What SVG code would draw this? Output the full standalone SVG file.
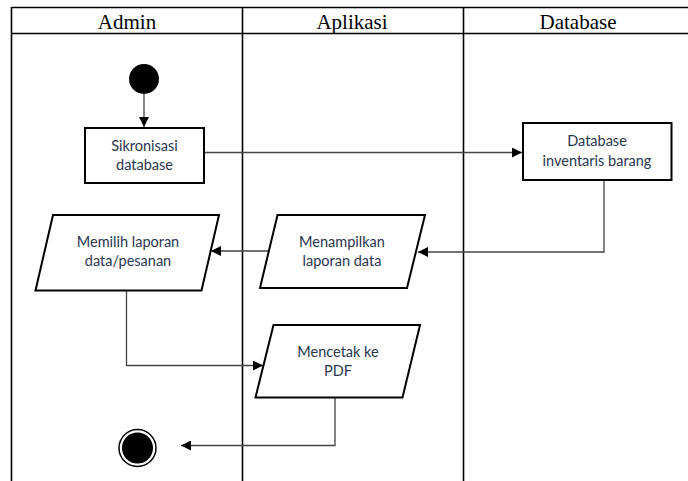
<svg xmlns="http://www.w3.org/2000/svg" width="688" height="481" viewBox="0 0 688 481">
<style>
.lane{stroke:#000;stroke-width:1.6;fill:none}
.hdr{font-family:"Liberation Serif","Times New Roman",serif;font-size:21px;fill:#000;text-anchor:middle}
.node{fill:#fff;stroke:#000;stroke-width:2}
.lbl{font-family:Lato,"Noto Sans",sans-serif;font-size:14.5px;fill:#2a3550;text-anchor:middle}
.con{fill:none;stroke:#444;stroke-width:1.3}
</style>
<defs>
<marker id="arr" viewBox="0 0 10 10" refX="10" refY="5" markerWidth="10" markerHeight="10" markerUnits="userSpaceOnUse" orient="auto">
<path d="M0,0 L10,5 L0,10 Z" fill="#000"/>
</marker>
</defs>
<rect width="688" height="481" fill="#fff"/>
<g id="lanes">
<line class="lane" x1="11.5" y1="7.5" x2="688" y2="7.5"/>
<line class="lane" x1="11.5" y1="33.5" x2="688" y2="33.5"/>
<line class="lane" x1="11.5" y1="7" x2="11.5" y2="481"/>
<line class="lane" x1="242.5" y1="7" x2="242.5" y2="481"/>
<line class="lane" x1="463.5" y1="7" x2="463.5" y2="481"/>
<text class="hdr" x="127" y="29">Admin</text>
<text class="hdr" x="352" y="29">Aplikasi</text>
<text class="hdr" x="578" y="29">Database</text>
</g>
<g id="connectors">
<line class="con" x1="144" y1="94" x2="144" y2="127" marker-end="url(#arr)"/>
<line class="con" x1="204" y1="152.5" x2="522" y2="152.5" marker-end="url(#arr)"/>
<polyline class="con" points="604,180 604,252 418,252" marker-end="url(#arr)"/>
<line class="con" x1="269" y1="251" x2="211" y2="251" marker-end="url(#arr)"/>
<polyline class="con" points="126.5,291 126.5,365.5 263,365.5" marker-end="url(#arr)"/>
<polyline class="con" points="335,398 335,445.5 181,445.5" marker-end="url(#arr)"/>
</g>
<g id="start">
<circle cx="144" cy="79" r="15" fill="#000"/>
</g>
<g id="sikronisasi">
<rect class="node" x="85" y="128" width="119" height="55"/>
<text class="lbl" x="144.5" y="150.5">Sikronisasi</text>
<text class="lbl" x="144.5" y="170">database</text>
</g>
<g id="database-inventaris">
<rect class="node" x="523" y="123" width="148.5" height="57"/>
<text class="lbl" x="597" y="146">Database</text>
<text class="lbl" x="597" y="165.5">inventaris barang</text>
</g>
<g id="memilih">
<polygon class="node" points="53,215 219,215 201.5,290.5 35.5,290.5"/>
<text class="lbl" x="128" y="247">Memilih laporan</text>
<text class="lbl" x="128" y="266">data/pesanan</text>
</g>
<g id="menampilkan">
<polygon class="node" points="277.5,215 425,215 407,288 260,288"/>
<text class="lbl" x="342" y="247">Menampilkan</text>
<text class="lbl" x="342" y="266">laporan data</text>
</g>
<g id="mencetak">
<polygon class="node" points="273.5,325 420,325 402.5,397.5 255.5,397.5"/>
<text class="lbl" x="338" y="356.5">Mencetak ke</text>
<text class="lbl" x="338" y="376">PDF</text>
</g>
<g id="end">
<circle cx="137.5" cy="448" r="18.5" fill="#fff" stroke="#000" stroke-width="1.5"/>
<circle cx="137.5" cy="448" r="15.5" fill="#000"/>
</g>
</svg>
